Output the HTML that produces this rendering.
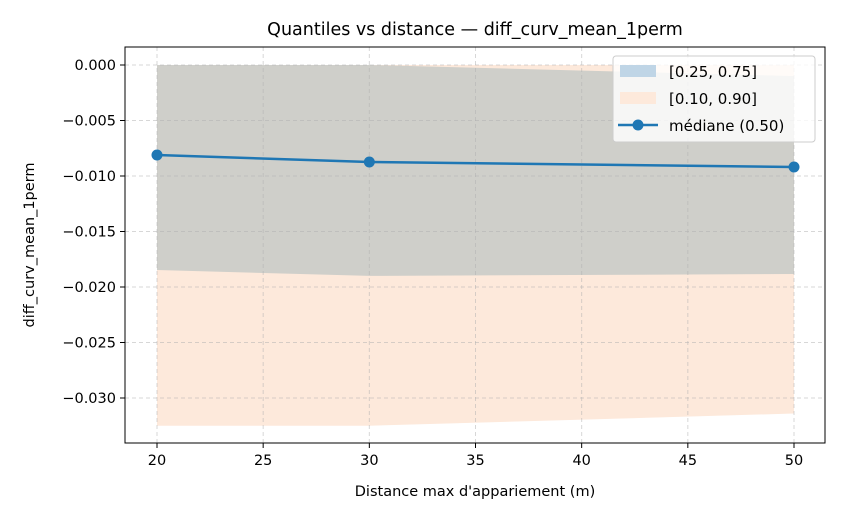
<!DOCTYPE html>
<html><head><meta charset="utf-8"><style>
body{margin:0;background:#fff;font-family:"Liberation Sans","DejaVu Sans",sans-serif}
svg text{font-family:"DejaVu Sans","Liberation Sans",sans-serif}
</style></head><body>
<svg id="c" width="845" height="520" xmlns="http://www.w3.org/2000/svg"></svg>
<script>
const distances=[20,30,50];
const q10=[-0.0325,-0.0325,-0.0314];
const q25=[-0.01847,-0.0190,-0.01883];
const q50=[-0.00811,-0.00874,-0.00919];
const q75=[0,0,-0.001];
const q90=[0,0,0];
const xTicks=[20,25,30,35,40,45,50];
const yTicks=[0,-0.005,-0.01,-0.015,-0.02,-0.025,-0.03];
const L=125,R=825,T=47,B=443;
const X=v=>157+(v-20)*(794-157)/30;
const Y=v=>65+(-v)*(398-65)/0.03;
const s=document.getElementById('c');
const NS='http://www.w3.org/2000/svg';
function el(t,a,p){const e=document.createElementNS(NS,t);for(const k in a)e.setAttribute(k,a[k]);(p||s).appendChild(e);return e;}
function txt(x,y,str,a){const e=el('text',Object.assign({x:x,y:y,'font-size':14,fill:'#000'},a||{}));e.textContent=str;return e;}
function band(lo,hi,fill,name){
  let pts=distances.map((d,i)=>X(d)+','+Y(hi[i]));
  pts=pts.concat(distances.map((d,i)=>X(d)+','+Y(lo[i])).reverse());
  const p=el('polygon',{points:pts.join(' '),fill:fill});
  
  
}
band(q10,q90,'#fde9db','band-10-90');
band(q25,q75,'#cfcfca','band-25-75');
xTicks.forEach(v=>{el('line',{x1:X(v),x2:X(v),y1:T,y2:B,stroke:'#b0b0b0','stroke-dasharray':'4,3','stroke-opacity':0.5});
  el('line',{x1:X(v),x2:X(v),y1:B,y2:B+5,stroke:'#000'});
  const t=txt(X(v),B+22,String(v),{'text-anchor':'middle','font-size':14.5});
  });
yTicks.forEach(v=>{el('line',{x1:L,x2:R,y1:Y(v),y2:Y(v),stroke:'#b0b0b0','stroke-dasharray':'4,3','stroke-opacity':0.5});
  el('line',{x1:L-5,x2:L,y1:Y(v),y2:Y(v),stroke:'#000'});
  const t=txt(L-9,Y(v)+5,(v===0?'0.000':'\u2212'+(-v).toFixed(3)),{'text-anchor':'end','font-size':14.5});
  });
const ln=el('polyline',{points:distances.map((d,i)=>X(d)+','+Y(q50[i])).join(' '),fill:'none',stroke:'#1f77b4','stroke-width':2.5});

distances.forEach((d,i)=>{const c=el('circle',{cx:X(d),cy:Y(q50[i]),r:5.5,fill:'#1f77b4'});
  });
el('rect',{x:L,y:T,width:R-L,height:B-T,fill:'none',stroke:'#000','stroke-width':1});
const ti=txt((L+R)/2,35,'Quantiles vs distance \u2014 diff_curv_mean_1perm',{'text-anchor':'middle','font-size':17.5});

const xl=txt((L+R)/2,496,"Distance max d'appariement (m)",{'text-anchor':'middle','font-size':14.5});

const yl=txt(0,0,'diff_curv_mean_1perm',{'text-anchor':'middle','font-size':14.5,transform:'translate(34,'+((T+B)/2)+') rotate(-90)'});

const g=el('g',{});
el('rect',{x:613,y:56,width:202,height:86,rx:3,fill:'#fff','fill-opacity':0.8,stroke:'#ccc'},g);
el('rect',{x:620,y:65,width:36,height:12,fill:'#bfd5e6'},g);
el('rect',{x:620,y:92,width:36,height:12,fill:'#fde9db'},g);
el('line',{x1:618,x2:658,y1:125,y2:125,stroke:'#1f77b4','stroke-width':2.5},g);
el('circle',{cx:638,cy:125,r:5.5,fill:'#1f77b4'},g);
txt(669,77,'[0.25, 0.75]',{'font-size':15},g);
txt(669,104,'[0.10, 0.90]',{'font-size':15},g);
txt(669,131,'médiane (0.50)',{'font-size':15},g);
</script>
</body></html>
